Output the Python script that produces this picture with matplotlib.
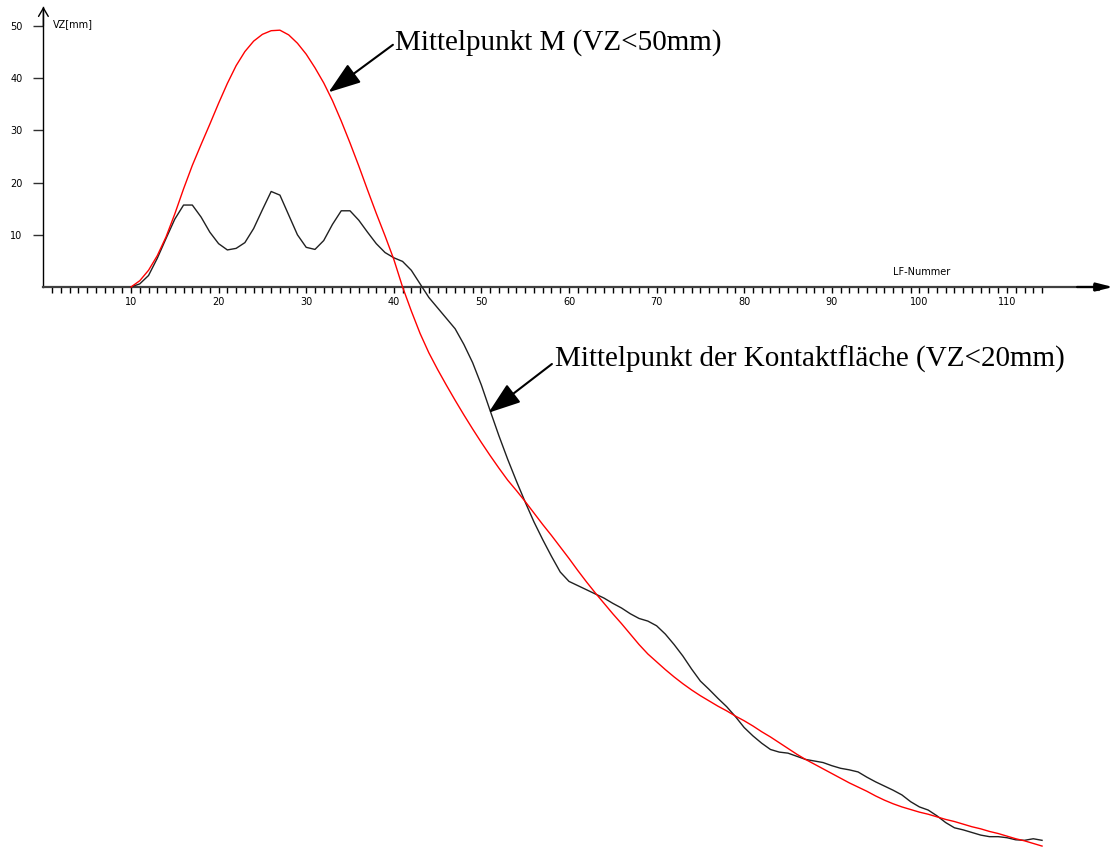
import matplotlib.pyplot as plt

# LF-Nummer vs. VZ [mm] for the two reference points
lf = list(range(10, 115))

vz_kontakt = [
    0.0, 0.6, 2.2, 5.5, 9.3, 13.0, 15.7, 15.7, 13.4, 10.5,          # 10-19
    8.3, 7.1, 7.4, 8.5, 11.2, 14.8, 18.3, 17.6, 13.8, 10.0,         # 20-29
    7.6, 7.2, 8.9, 12.0, 14.6, 14.6, 12.8, 10.5, 8.3, 6.6,          # 30-39
    5.6, 4.9, 3.2, 0.6, -2.0, -4.0, -6.0, -8.0, -11.0, -14.5,       # 40-49
    -18.8, -23.7, -28.5, -33.0, -37.2, -41.2, -45.0, -48.4, -51.6, -54.6,   # 50-59
    -56.4, -57.2, -58.0, -58.8, -59.6, -60.6, -61.5, -62.6, -63.5, -64.0,   # 60-69
    -64.9, -66.5, -68.5, -70.7, -73.2, -75.5, -77.1, -78.8, -80.4, -82.3,   # 70-79
    -84.4, -86.0, -87.4, -88.6, -89.1, -89.3, -89.9, -90.5, -90.8, -91.1,   # 80-89
    -91.7, -92.2, -92.5, -92.9, -93.9, -94.8, -95.6, -96.4, -97.3, -98.6,   # 90-99
    -99.6, -100.2, -101.3, -102.6, -103.6, -104.0, -104.5, -105.0, -105.3, -105.3,  # 100-109
    -105.5, -105.9, -106.0, -105.7, -106.0,                          # 110-114
]

vz_mitte = [
    0.0, 1.2, 3.2, 6.0, 9.6, 14.0, 18.8, 23.3, 27.3, 31.2,           # 10-19
    35.2, 39.0, 42.4, 45.1, 47.1, 48.4, 49.1, 49.2, 48.3, 46.7,      # 20-29
    44.6, 42.0, 39.1, 35.7, 31.8, 27.6, 23.2, 18.6, 14.1, 9.8,       # 30-39
    5.3, 0.0, -4.6, -8.9, -12.6, -15.8, -18.8, -21.7, -24.5, -27.2,  # 40-49
    -29.8, -32.3, -34.7, -37.0, -39.0, -41.1, -43.3, -45.5, -47.6, -49.8,   # 50-59
    -52.0, -54.3, -56.5, -58.6, -60.6, -62.6, -64.5, -66.5, -68.5, -70.3,   # 60-69
    -71.8, -73.3, -74.7, -76.0, -77.2, -78.3, -79.3, -80.3, -81.2, -82.2,   # 70-79
    -83.1, -84.1, -85.2, -86.2, -87.3, -88.4, -89.5, -90.5, -91.4, -92.3,   # 80-89
    -93.2, -94.1, -95.0, -95.8, -96.6, -97.5, -98.3, -99.0, -99.6, -100.1,  # 90-99
    -100.6, -101.0, -101.5, -102.0, -102.4, -102.9, -103.4, -103.8, -104.3, -104.7,  # 100-109
    -105.2, -105.7, -106.1, -106.6, -107.1,                          # 110-114
]

x_major = list(range(10, 111, 10))
x_minor = [i for i in range(1, 115) if i % 10 != 0]
y_major = [10, 20, 30, 40, 50]

# canvas in pixels, origin of the plot and scale (px per unit)
W, H = 1113, 847
x0_px, y0_px = 43.4, 287.0
sx, sy = 8.76, 5.22

fig = plt.figure(figsize=(W / 100, H / 100), dpi=100)
ax = fig.add_axes([x0_px / W, 0, 1 - x0_px / W, 1])
ax.set_xlim(0, (W - x0_px) / sx)
ax.set_ylim(-(H - y0_px) / sy, y0_px / sy)

ax.plot(lf, vz_kontakt, color='#202020', lw=1.0, clip_on=False, zorder=3)
ax.plot(lf, vz_mitte, color='#ff0000', lw=1.0, clip_on=False, zorder=3)

# axes through the origin
for side in ['top', 'right']:
    ax.spines[side].set_visible(False)
ax.spines['bottom'].set_position(('data', 0))
ax.spines['bottom'].set_bounds(0, 121.0)
ax.spines['bottom'].set_color('#404040')
ax.spines['bottom'].set_linewidth(1.6)
ax.spines['left'].set_position(('data', 0))
ax.spines['left'].set_bounds(0, 53.6)
ax.spines['left'].set_linewidth(1.0)

ax.annotate('', xy=(0, 53.7), xytext=(0, 50),
            arrowprops=dict(arrowstyle='->,head_length=0.6,head_width=0.35',
                            color='black', lw=1.0, shrinkA=0, shrinkB=0,
                            mutation_scale=10))
ax.annotate('', xy=(122.1, 0), xytext=(118, 0),
            arrowprops=dict(arrowstyle='-|>,head_length=1.0,head_width=0.25',
                            color='black', lw=1.6, shrinkA=0, shrinkB=0,
                            mutation_scale=10))
ax.plot([120.2], [0], marker='s', ms=4, mfc='#808080', mec='#404040',
        mew=0.8, clip_on=False)

ax.set_xticks(x_major)
ax.set_xticks(x_minor, minor=True)
ax.set_xticklabels([str(v) for v in x_major])
ax.set_yticks(y_major)
ax.set_yticklabels([str(v) for v in y_major])
ax.tick_params(axis='x', which='both', direction='out', length=4, width=1,
               color='black', pad=3, labelsize=7)
ax.tick_params(axis='y', which='major', direction='out', length=7, width=1,
               color='#303030', pad=8, labelsize=7)

ax.text(1.1, 50.4, 'VZ[mm]', fontsize=7, va='center', ha='left')
ax.text(100.3, 2.9, 'LF-Nummer', fontsize=7, va='center', ha='center')

# labels with pointer arrows
serif = 'Liberation Serif'
ax.text(40.1, 45.5, 'Mittelpunkt M (VZ<50mm)', family=serif, fontsize=21,
        ha='left', va='baseline')
ax.annotate('', xy=(32.55, 37.3), xytext=(39.9, 46.4),
            arrowprops=dict(arrowstyle='-|>,head_length=1.0,head_width=0.35',
                            color='black', lw=1.5, shrinkA=0, shrinkB=0,
                            mutation_scale=20))

ax.text(58.4, -15.3, 'Mittelpunkt der Kontaktfläche (VZ<20mm)', family=serif,
        fontsize=21, ha='left', va='baseline')
ax.annotate('', xy=(50.8, -24.1), xytext=(58.05, -14.75),
            arrowprops=dict(arrowstyle='-|>,head_length=1.0,head_width=0.35',
                            color='black', lw=1.5, shrinkA=0, shrinkB=0,
                            mutation_scale=20))

fig.savefig('out.png', dpi=100)
